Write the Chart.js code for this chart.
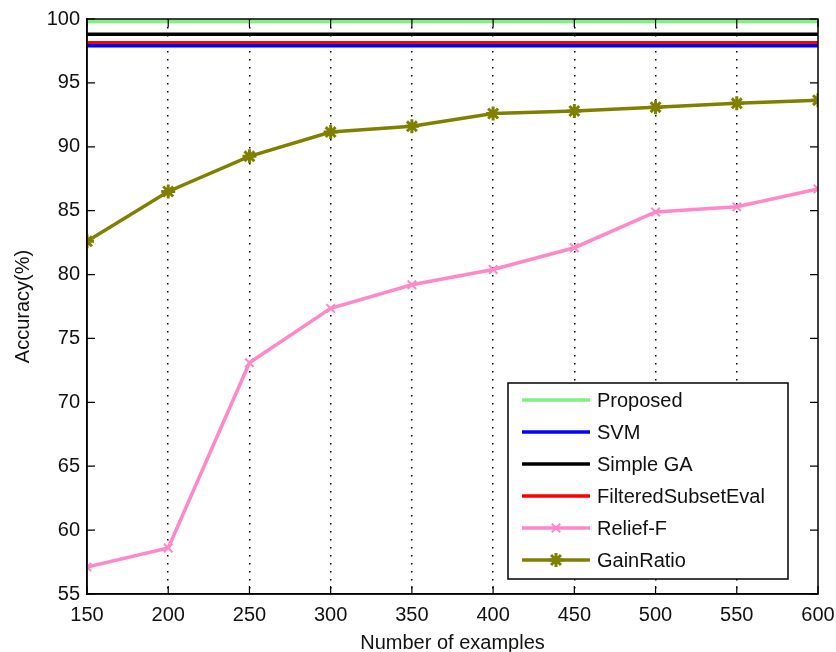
<!DOCTYPE html>
<html>
<head>
<meta charset="utf-8">
<script src="https://cdn.jsdelivr.net/npm/chart.js@4/dist/chart.umd.min.js"></script>
<style>
  html, body { margin: 0; padding: 0; background: #fff; }
  #wrap { width: 836px; height: 652px; }
</style>
</head>
<body>
<div id="wrap"><canvas id="c" width="836" height="652"></canvas></div>
<script>
// Number of training examples (x axis)
const examples = [150, 200, 250, 300, 350, 400, 450, 500, 550, 600];

// Accuracy (%) of each feature-selection method
const proposed           = [99.8, 99.8, 99.8, 99.8, 99.8, 99.8, 99.8, 99.8, 99.8, 99.8];
const svm                = [97.9, 97.9, 97.9, 97.9, 97.9, 97.9, 97.9, 97.9, 97.9, 97.9];
const simpleGA           = [98.8, 98.8, 98.8, 98.8, 98.8, 98.8, 98.8, 98.8, 98.8, 98.8];
const filteredSubsetEval = [98.15, 98.15, 98.15, 98.15, 98.15, 98.15, 98.15, 98.15, 98.15, 98.15];
const reliefF            = [57.1, 58.6, 73.1, 77.35, 79.2, 80.4, 82.1, 84.9, 85.3, 86.7];
const gainRatio          = [82.6, 86.5, 89.25, 91.15, 91.6, 92.6, 92.8, 93.1, 93.4, 93.65];

// Axis ranges
const xRange = [150, 600];
const yRange = [55, 100];

const FONT = '"Liberation Sans", Arial, Helvetica, sans-serif';

const toPoints = vals => vals.map((v, i) => ({ x: examples[i], y: v }));

function series(label, vals, color, extra) {
  return Object.assign({
    label,
    data: toPoints(vals),
    borderColor: color,
    backgroundColor: color,
    borderWidth: 3.5,
    pointRadius: 0,
    pointHoverRadius: 0,
    tension: 0,
    fill: false
  }, extra || {});
}

const datasets = [
  series('Proposed', proposed, '#80F080'),
  series('SVM', svm, '#0000FF'),
  series('Simple GA', simpleGA, '#000000'),
  series('FilteredSubsetEval', filteredSubsetEval, '#FF0000'),
  series('Relief-F', reliefF, '#FF88C8', {
    pointStyle: 'crossRot', pointRadius: 6, pointBorderWidth: 2
  }),
  series('GainRatio', gainRatio, '#808000', {
    pointStyle: 'star', pointRadius: 7, pointBorderWidth: 3
  })
];

// Box frame with inward tick marks on all four sides
const frame = {
  id: 'frame',
  afterDraw(chart) {
    const { ctx, chartArea: a, scales } = chart;
    const tl = 8;
    ctx.save();
    ctx.strokeStyle = '#000';
    ctx.lineWidth = 1.5;
    ctx.strokeRect(a.left, a.top, a.right - a.left, a.bottom - a.top);
    ctx.lineWidth = 1.2;
    ctx.beginPath();
    scales.x.ticks.forEach(t => {
      const px = scales.x.getPixelForValue(t.value);
      ctx.moveTo(px, a.bottom); ctx.lineTo(px, a.bottom - tl);
      ctx.moveTo(px, a.top); ctx.lineTo(px, a.top + tl);
    });
    scales.y.ticks.forEach(t => {
      const py = scales.y.getPixelForValue(t.value);
      ctx.moveTo(a.left, py); ctx.lineTo(a.left + tl, py);
      ctx.moveTo(a.right, py); ctx.lineTo(a.right - tl, py);
    });
    ctx.stroke();
    ctx.restore();
  }
};

function drawMarker(ctx, ds, x, y) {
  if (!ds.pointStyle || !ds.pointRadius) return;
  ctx.save();
  ctx.strokeStyle = ds.borderColor;
  ctx.fillStyle = ds.backgroundColor;
  ctx.lineWidth = ds.pointBorderWidth;
  if (Chart.helpers && Chart.helpers.drawPoint) {
    Chart.helpers.drawPoint(ctx, {
      pointStyle: ds.pointStyle, rotation: 0,
      radius: ds.pointRadius, borderWidth: ds.pointBorderWidth
    }, x, y);
  }
  ctx.restore();
}

// Legend box inside the lower-right corner of the plot
const legendBox = {
  id: 'legendBox',
  afterDraw(chart) {
    const { ctx, chartArea: a } = chart;
    const w = 280, h = 196;
    const x0 = a.right - 30 - w;
    const y0 = a.bottom - 15 - h;
    ctx.save();
    ctx.fillStyle = '#fff';
    ctx.fillRect(x0, y0, w, h);
    ctx.strokeStyle = '#000';
    ctx.lineWidth = 1.5;
    ctx.strokeRect(x0, y0, w, h);
    ctx.font = '20px ' + FONT;
    ctx.textBaseline = 'middle';
    ctx.textAlign = 'left';
    chart.data.datasets.forEach((ds, i) => {
      const y = y0 + 17 + i * 32;
      ctx.strokeStyle = ds.borderColor;
      ctx.lineWidth = ds.borderWidth;
      ctx.beginPath();
      ctx.moveTo(x0 + 14, y);
      ctx.lineTo(x0 + 82, y);
      ctx.stroke();
      drawMarker(ctx, ds, x0 + 48, y);
      ctx.fillStyle = '#111';
      ctx.fillText(ds.label, x0 + 89, y + 1);
    });
    ctx.restore();
  }
};

new Chart(document.getElementById('c'), {
  type: 'line',
  data: { datasets },
  plugins: [frame, legendBox],
  options: {
    responsive: false,
    animation: false,
    devicePixelRatio: 1,
    layout: { padding: { left: 0, right: 18, top: 19, bottom: 0 } },
    plugins: { legend: { display: false }, tooltip: { enabled: false } },
    scales: {
      x: {
        type: 'linear',
        min: xRange[0], max: xRange[1],
        ticks: {
          stepSize: 50, color: '#111', padding: 9,
          font: { family: FONT, size: 20 }, maxRotation: 0
        },
        grid: {
          drawTicks: false,
          color: c => (c.tick && (c.tick.value === xRange[0] || c.tick.value === xRange[1])) ? 'rgba(0,0,0,0)' : '#000',
          lineWidth: 1.5
        },
        border: { display: true, color: '#000', width: 1.5, dash: [1.5, 6.5] },
        title: {
          display: true, text: 'Number of examples', color: '#111',
          font: { family: FONT, size: 20, lineHeight: 0.85 }, padding: { top: 0, bottom: 0 }
        },
        afterFit: s => { s.height = 58; s.paddingLeft = 0; s.paddingRight = 0; }
      },
      y: {
        min: yRange[0], max: yRange[1],
        ticks: {
          stepSize: 5, color: '#111', padding: 7,
          font: { family: FONT, size: 20 }
        },
        grid: { drawTicks: false, drawOnChartArea: false },
        border: { display: true, color: '#000', width: 1.5 },
        title: {
          display: true, text: 'Accuracy(%)', color: '#111',
          font: { family: FONT, size: 20 }, padding: { top: 11, bottom: 0 }
        },
        afterFit: s => { s.width = 87; s.paddingTop = 0; s.paddingBottom = 0; }
      }
    }
  }
});
</script>
</body>
</html>
